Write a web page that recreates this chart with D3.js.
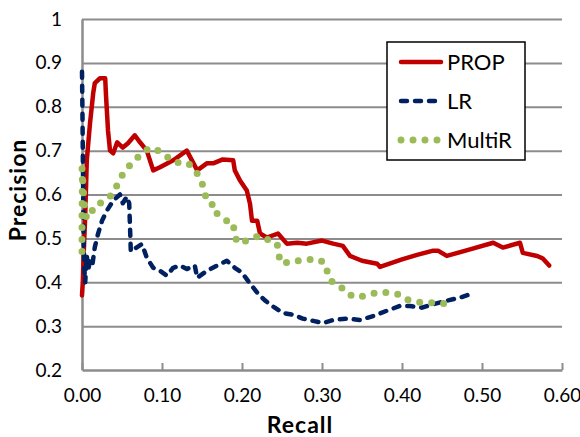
<!DOCTYPE html>
<html>
<head>
<meta charset="utf-8">
<script src="https://cdn.jsdelivr.net/npm/d3@7"></script>
<style>
body { margin: 0; background: #fff; }
text { font-family: Lato, "Open Sans", sans-serif; }
</style>
</head>
<body>
<script>
// series names (legend order)
var seriesNames = ["PROP", "LR", "MultiR"];

// PROP curve: [recall, precision]
var propPoints = [[0.000,0.37],[0.001,0.40],[0.002,0.46],[0.004,0.55],[0.006,0.678],[0.010,0.762],[0.014,0.831],[0.016,0.854],[0.0225,0.865],[0.029,0.865],[0.030,0.826],[0.0325,0.746],[0.035,0.70],[0.039,0.694],[0.044,0.719],[0.051,0.707],[0.0575,0.717],[0.066,0.735],[0.0725,0.719],[0.081,0.70],[0.089,0.655],[0.0975,0.662],[0.114,0.678],[0.131,0.70],[0.144,0.655],[0.156,0.671],[0.164,0.671],[0.176,0.68],[0.189,0.678],[0.191,0.655],[0.1975,0.632],[0.206,0.609],[0.21,0.579],[0.2125,0.54],[0.219,0.54],[0.2225,0.511],[0.231,0.502],[0.245,0.511],[0.256,0.488],[0.269,0.49],[0.281,0.488],[0.30,0.495],[0.314,0.488],[0.326,0.483],[0.335,0.46],[0.35,0.449],[0.369,0.442],[0.3725,0.435],[0.40,0.452],[0.42,0.463],[0.439,0.472],[0.445,0.472],[0.456,0.46],[0.485,0.475],[0.514,0.49],[0.526,0.479],[0.5475,0.49],[0.551,0.467],[0.569,0.46],[0.576,0.454],[0.584,0.438]];

// LR curve
var lrPoints = [[0,0.88],[0.0005,0.80],[0.001,0.70],[0.0015,0.60],[0.002,0.50],[0.003,0.43],[0.004,0.40],[0.006,0.46],[0.008,0.43],[0.010,0.45],[0.013,0.44],[0.016,0.48],[0.020,0.51],[0.025,0.54],[0.031,0.563],[0.039,0.586],[0.0475,0.60],[0.051,0.58],[0.056,0.595],[0.059,0.58],[0.0605,0.50],[0.061,0.47],[0.069,0.48],[0.075,0.487],[0.081,0.456],[0.089,0.433],[0.0975,0.426],[0.106,0.415],[0.114,0.433],[0.1225,0.438],[0.131,0.43],[0.141,0.438],[0.144,0.41],[0.156,0.426],[0.169,0.438],[0.181,0.449],[0.191,0.433],[0.2,0.422],[0.21,0.397],[0.22,0.374],[0.229,0.358],[0.241,0.342],[0.251,0.33],[0.264,0.326],[0.276,0.317],[0.289,0.312],[0.301,0.307],[0.314,0.314],[0.331,0.317],[0.3475,0.314],[0.364,0.323],[0.381,0.335],[0.3975,0.346],[0.41,0.346],[0.425,0.342],[0.439,0.35],[0.456,0.358],[0.4725,0.365],[0.4825,0.371]];

// MultiR curve
var multiPoints = [[0,0.47],[0,0.55],[0.0005,0.63],[0,0.66],[0.002,0.60],[0.004,0.56],[0.006,0.545],[0.009,0.55],[0.012,0.56],[0.016,0.575],[0.0225,0.58],[0.031,0.589],[0.0375,0.60],[0.045,0.625],[0.05,0.643],[0.0575,0.662],[0.066,0.678],[0.075,0.694],[0.085,0.707],[0.095,0.70],[0.104,0.689],[0.116,0.673],[0.131,0.673],[0.139,0.662],[0.144,0.648],[0.15,0.627],[0.156,0.586],[0.1625,0.579],[0.164,0.559],[0.17,0.556],[0.181,0.54],[0.189,0.536],[0.191,0.502],[0.1975,0.488],[0.21,0.499],[0.2225,0.506],[0.235,0.495],[0.244,0.488],[0.246,0.46],[0.25,0.442],[0.2625,0.449],[0.276,0.449],[0.291,0.454],[0.3025,0.446],[0.3075,0.42],[0.311,0.403],[0.3225,0.392],[0.331,0.374],[0.344,0.365],[0.3575,0.371],[0.371,0.378],[0.384,0.376],[0.4,0.371],[0.4075,0.36],[0.42,0.355],[0.4325,0.353],[0.4475,0.353],[0.4575,0.35]];

// tick values
var xTicks = [0, 0.1, 0.2, 0.3, 0.4, 0.5, 0.6];
var yTicks = [0.2, 0.3, 0.4, 0.5, 0.6, 0.7, 0.8, 0.9, 1];

//Setting the margins
var margin = {top: 19, right: 18, bottom: 67, left: 82},
    width = 580 - margin.left - margin.right,
    height = 437 - margin.top - margin.bottom;

var colors = ["#c00000", "#002060", "#9bbb59"];
var axisGrey = "#8c8c8c";

var svg = d3.select("body")
  .append("svg")
    .attr("width", 580)
    .attr("height", 437);

var g = svg.append("g")
  .attr("transform", "translate(" + margin.left + "," + margin.top + ")");

var xScale = d3.scaleLinear().domain([0, 0.6]).range([0, width]);
var yScale = d3.scaleLinear().domain([0.2, 1]).range([height, 0]);

//horizontal gridlines
g.append("g")
  .attr("class", "grid")
  .call(d3.axisLeft(yScale).tickValues(yTicks.slice(1)).tickSize(-width).tickFormat(""))
  .call(function(s) { s.select(".domain").remove(); })
  .selectAll("line")
    .attr("stroke", axisGrey)
    .attr("stroke-width", 2);

//y axis
var yAxis = g.append("g")
  .call(d3.axisLeft(yScale).tickValues(yTicks).tickSize(0).tickPadding(20).tickFormat(d3.format("~g")));
yAxis.select(".domain").attr("stroke", axisGrey).attr("stroke-width", 2.5);
yAxis.selectAll("text").attr("font-size", 19).attr("fill", "#000")
  .style("font-family", "Lato, sans-serif");

//x axis with inward ticks
var xAxis = g.append("g")
  .attr("transform", "translate(0," + height + ")")
  .call(d3.axisBottom(xScale).tickValues(xTicks).tickSize(-7).tickSizeOuter(0).tickPadding(19).tickFormat(d3.format(".2f")));
xAxis.select(".domain").attr("stroke", axisGrey).attr("stroke-width", 2.5);
xAxis.selectAll("line").attr("stroke", axisGrey).attr("stroke-width", 2);
xAxis.selectAll("text").attr("font-size", 19).attr("fill", "#000")
  .style("font-family", "Lato, sans-serif");

//series lines
var line = d3.line()
  .x(function(d) { return xScale(d[0]); })
  .y(function(d) { return yScale(d[1]); });

var styles = [
  {w: 4.5, dash: null},
  {w: 4.5, dash: "6,8"},
  {w: 7, dash: "0,12"}
];

[propPoints, lrPoints, multiPoints].forEach(function(pts, i) {
  g.append("path")
    .datum(pts)
    .attr("fill", "none")
    .attr("stroke", colors[i])
    .attr("stroke-width", styles[i].w)
    .attr("stroke-linejoin", "round")
    .attr("stroke-linecap", "round")
    .attr("stroke-dasharray", styles[i].dash)
    .attr("d", line);
});

//axis titles
svg.append("text")
  .attr("x", 300).attr("y", 433)
  .attr("text-anchor", "middle")
  .attr("font-size", 23).attr("font-weight", "bold")
  .attr("letter-spacing", 1)
  .text("Recall");

svg.append("text")
  .attr("transform", "translate(26,190) rotate(-90)")
  .attr("text-anchor", "middle")
  .attr("font-size", 23).attr("font-weight", "bold")
  .attr("letter-spacing", 1)
  .text("Precision");

//legend
var legend = svg.append("g");
legend.append("rect")
  .attr("x", 387).attr("y", 42)
  .attr("width", 138).attr("height", 118)
  .attr("fill", "#fff")
  .attr("stroke", "#000")
  .attr("stroke-width", 1.5);

seriesNames.forEach(function(name, i) {
  var ly = 62 + i * 39;
  legend.append("line")
    .attr("x1", 401).attr("x2", 441)
    .attr("y1", ly).attr("y2", ly)
    .attr("stroke", colors[i])
    .attr("stroke-width", styles[i].w)
    .attr("stroke-linecap", "round")
    .attr("stroke-dasharray", styles[i].dash);
  legend.append("text")
    .attr("x", 447).attr("y", ly)
    .attr("dy", "0.36em")
    .attr("font-size", 22)
    .text(name);
});
</script>
</body>
</html>
